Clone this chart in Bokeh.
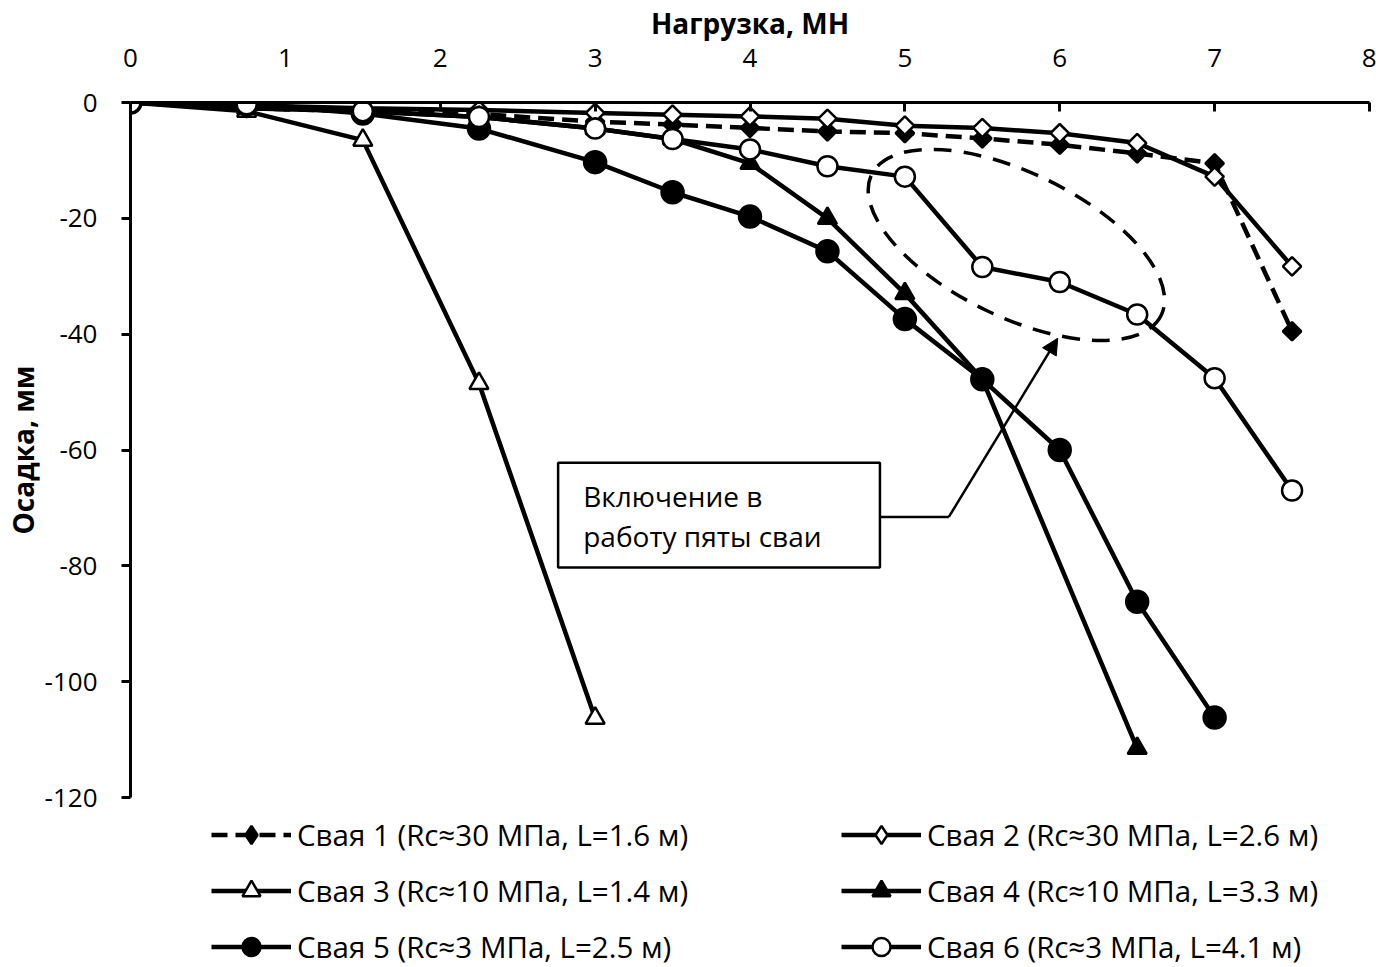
import math
from bokeh.plotting import figure
from bokeh.layouts import column
from bokeh.models import (Range1d, FixedTicker, Legend, LegendItem, BoxAnnotation,
                          Label, Arrow, NormalHead)
from bokeh.embed import file_html
from bokeh.resources import INLINE

FONT = "Open Sans"

# Load steps, MN
loads = [0, 0.75, 1.5, 2.25, 3, 3.5, 4, 4.5, 5, 5.5, 6, 6.5, 7, 7.5]
loads_s3 = [0, 0.75, 1.5, 2.25, 3]
loads_s4 = [0, 0.75, 1.5, 2.25, 3, 3.5, 4, 4.5, 5, 5.5, 6.5]
loads_s5 = [0, 0.75, 1.5, 2.25, 3, 3.5, 4, 4.5, 5, 5.5, 6, 6.5, 7]

# Settlement, mm
settle_1 = [0, -1, -1.5, -2, -3.3, -3.8, -4.4, -5.0, -5.3, -6.2, -7.3, -8.8, -10.5, -39.5]
settle_2 = [0, -0.5, -1, -1.3, -1.8, -2.1, -2.4, -2.8, -4.0, -4.4, -5.3, -7.0, -12.8, -28.3]
settle_3 = [0, -1.5, -6.5, -48.5, -106.3]
settle_4 = [0, -1, -1.5, -2.5, -4.5, -6.3, -10.5, -20.0, -33.0, -47.8, -111.5]
settle_5 = [0, -0.3, -1.9, -4.5, -10.3, -15.5, -19.7, -25.7, -37.4, -47.8, -60.0, -86.2, -106.2]
settle_6 = [0, -0.3, -1.5, -2.5, -4.5, -6.3, -8.1, -11.0, -12.8, -28.4, -31.0, -36.6, -47.6, -67.0]

labels = [
    "Свая 1 (Rc≈30 МПа, L=1.6 м)",
    "Свая 2 (Rc≈30 МПа, L=2.6 м)",
    "Свая 3 (Rc≈10 МПа, L=1.4 м)",
    "Свая 4 (Rc≈10 МПа, L=3.3 м)",
    "Свая 5 (Rc≈3 МПа, L=2.5 м)",
    "Свая 6 (Rc≈3 МПа, L=4.1 м)",
]

x_ticks = [0, 1, 2, 3, 4, 5, 6, 7, 8]
y_ticks = [-120, -100, -80, -60, -40, -20, 0]

p = figure(width=1376, height=814,
           x_range=Range1d(0, 8), y_range=Range1d(-120, 0),
           x_axis_location="above",
           output_backend="svg", toolbar_location=None,
           min_border_left=129, min_border_right=7,
           min_border_top=101, min_border_bottom=17)

p.grid.visible = False
p.outline_line_color = None
p.background_fill_color = "white"
p.border_fill_color = "white"

for ax, ticks in ((p.xaxis[0], x_ticks), (p.yaxis[0], y_ticks)):
    ax.ticker = FixedTicker(ticks=ticks)
    ax.major_label_overrides = {t: str(t) for t in ticks}
    ax.minor_tick_line_color = None
    ax.axis_line_width = 3
    ax.axis_line_color = "black"
    ax.major_tick_line_width = 3
    ax.major_tick_line_color = "black"
    ax.major_label_text_font = FONT
    ax.major_label_text_font_size = "26px"
    ax.major_label_text_color = "black"
    ax.axis_label_text_font = FONT
    ax.axis_label_text_font_size = "28px"
    ax.axis_label_text_font_style = "bold"
    ax.axis_label_text_color = "black"

xa = p.xaxis[0]
xa.axis_label = "Нагрузка, МН"
xa.major_tick_in = 9
xa.major_tick_out = 0
xa.major_label_standoff = 36
xa.axis_label_standoff = 4

ya = p.yaxis[0]
ya.axis_label = "Осадка, мм"
ya.major_tick_in = 0
ya.major_tick_out = 9
ya.major_label_standoff = 24
ya.axis_label_standoff = 0

LW = 4.5

# Marker style of each pile: (marker, filled, size, line dash, angle)
styles = [
    ("square", True, 13, "16 8", math.pi / 4),
    ("square", False, 13, "solid", math.pi / 4),
    ("triangle", False, 19, "solid", 0.0),
    ("triangle", True, 19, "solid", 0.0),
    ("circle", True, 22, "solid", 0.0),
    ("circle", False, 20, "solid", 0.0),
]

def series(fig, xs, ys, style):
    marker, filled, size, dash, angle = style
    ln = fig.line(xs, ys, line_color="black", line_width=LW, line_dash=dash)
    sc = fig.scatter(xs, ys, marker=marker, size=size, angle=angle,
                     fill_color="black" if filled else "white",
                     line_color="black", line_width=2.5)
    return [ln, sc]

series(p, loads, settle_1, styles[0])
series(p, loads, settle_2, styles[1])
series(p, loads_s3, settle_3, styles[2])
series(p, loads_s4, settle_4, styles[3])
series(p, loads_s5, settle_5, styles[4])
series(p, loads, settle_6, styles[5])

# Dashed oval marking the break in the curves
p.ellipse(x=5.72, y=-24.6, width=322, height=144,
          width_units="screen", height_units="screen", angle=-0.452,
          fill_color=None, line_color="black", line_width=3.5, line_dash="18 12")

# Callout box with leader arrow
box_left, box_right, box_top, box_bottom = 2.761, 4.839, -62.2, -80.3
p.add_layout(BoxAnnotation(left=box_left, right=box_right, top=box_top, bottom=box_bottom,
                           fill_color="white", fill_alpha=1,
                           line_color="black", line_alpha=1, line_width=2.5))
p.add_layout(Label(x=2.923, y=-67.9, text="Включение в", text_font=FONT,
                   text_font_size="28px", text_baseline="middle", text_color="black"))
p.add_layout(Label(x=2.923, y=-74.8, text="работу пяты сваи", text_font=FONT,
                   text_font_size="28px", text_baseline="middle", text_color="black"))

lead_y = -71.55
kink_x = 5.284
p.line([box_right, kink_x], [lead_y, lead_y], line_color="black", line_width=2.5)
p.add_layout(Arrow(x_start=kink_x, y_start=lead_y, x_end=5.987, y_end=-40.7,
                   line_color="black", line_width=2.5,
                   end=NormalHead(size=16, fill_color="black", line_color="black")))

# Legend strip under the plot: two columns of three entries.
# Its frame lines up with the plot frame above (x from 129 px).
lg = figure(width=1376, height=153, x_range=Range1d(0, 1), y_range=Range1d(0, 1),
            output_backend="svg", toolbar_location=None,
            min_border=0, min_border_left=0, min_border_right=0,
            min_border_top=0, min_border_bottom=0)
lg.axis.visible = False
lg.grid.visible = False
lg.outline_line_color = None
lg.background_fill_color = "white"
lg.border_fill_color = "white"

# Legend swatches (a legend does not rotate markers, so diamonds are used here)
key_styles = [("diamond",) + st[1:] if st[0] == "square" else st for st in styles]
# key glyphs sit outside the visible range; only their legend swatches show
keys = [series(lg, [-5], [-5], st) for st in key_styles]

def make_legend(idx, loc):
    leg = Legend(items=[LegendItem(label=labels[i], renderers=keys[i]) for i in idx],
                 location=loc,
                 glyph_width=80, glyph_height=45, label_height=45,
                 label_standoff=6, spacing=11, padding=0, margin=0,
                 label_text_font=FONT, label_text_font_size="29.5px",
                 label_text_color="black",
                 border_line_color=None, background_fill_alpha=0)
    lg.add_layout(leg)

make_legend([0, 2, 4], (81, -1.5))
make_legend([1, 3, 5], (711, -1.5))

open("out.html", "w").write(file_html(column(p, lg, spacing=0), INLINE))
